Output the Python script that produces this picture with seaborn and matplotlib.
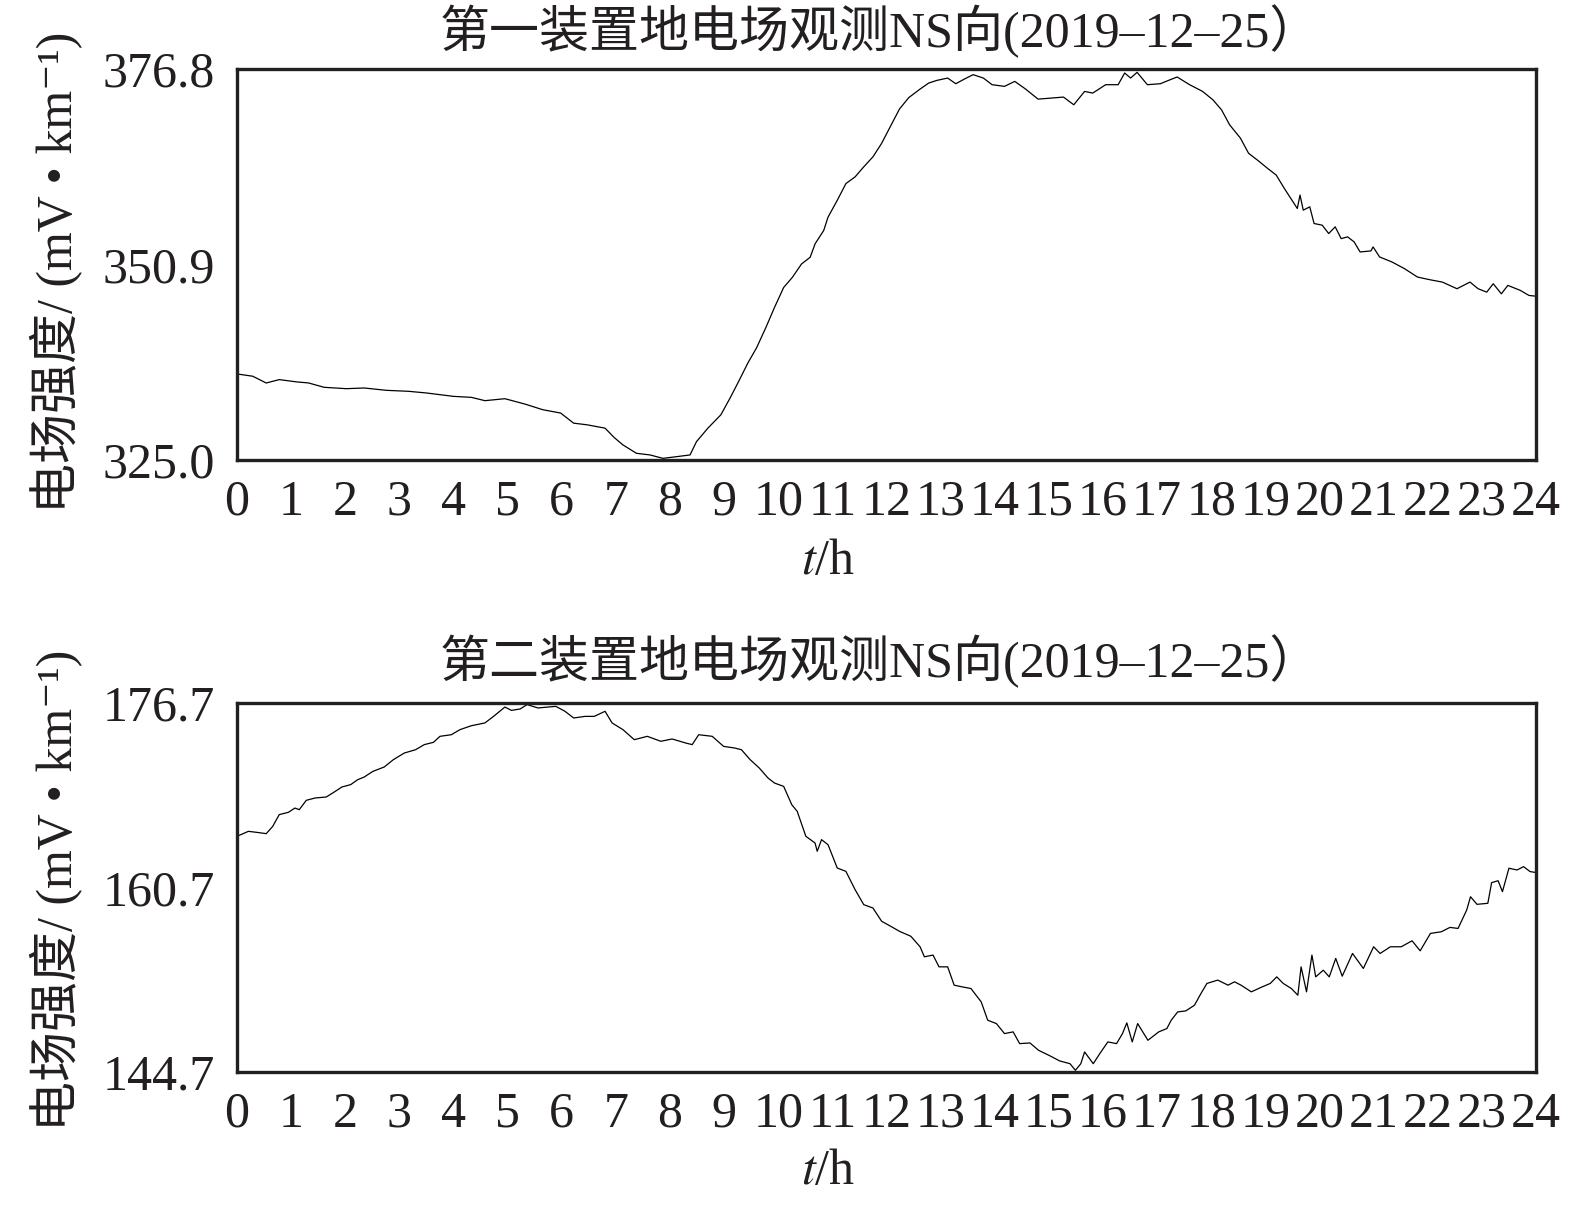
import matplotlib
matplotlib.use("Agg")
import matplotlib.pyplot as plt
import seaborn as sns
import numpy as np

# ---- data ----
hours_top = [0.0, 0.29, 0.54, 0.78, 1.11, 1.32, 1.61, 2.02, 2.35, 2.76, 3.17, 3.50, 4.00, 4.33,
             4.58, 4.95, 5.32, 5.65, 5.98, 6.22, 6.47, 6.80, 6.97, 7.13, 7.38, 7.63, 7.87, 8.12,
             8.37, 8.49, 8.70, 8.94, 9.11, 9.27, 9.44, 9.60, 9.77, 9.93, 10.10, 10.26, 10.43,
             10.59, 10.68, 10.84, 10.92, 11.09, 11.25, 11.42, 11.58, 11.75, 11.91, 12.08, 12.24,
             12.41, 12.62, 12.78, 12.93, 13.13, 13.28, 13.44, 13.60, 13.79, 13.95, 14.18, 14.37,
             14.57, 14.80, 15.03, 15.27, 15.46, 15.66, 15.81, 16.05, 16.28, 16.40, 16.51, 16.63,
             16.82, 17.06, 17.21, 17.37, 17.60, 17.84, 18.03, 18.19, 18.34, 18.54, 18.69, 18.85,
             19.04, 19.20, 19.35, 19.47, 19.59, 19.64, 19.70, 19.82, 19.90, 20.05, 20.17, 20.29,
             20.40, 20.52, 20.64, 20.75, 20.95, 20.99, 21.11, 21.34, 21.57, 21.81, 22.04, 22.27,
             22.54, 22.78, 22.93, 23.09, 23.21, 23.36, 23.48, 23.71, 23.87, 24.0]
field_top = [336.4, 336.1, 335.2, 335.65, 335.34, 335.21, 334.63, 334.45, 334.54, 334.23, 334.10,
             333.88, 333.43, 333.30, 332.86, 333.12, 332.41, 331.66, 331.22, 329.88, 329.66,
             329.22, 327.97, 327.0, 325.89, 325.67, 325.22, 325.44, 325.67, 327.44, 329.22,
             330.99, 333.21, 335.43, 337.87, 339.87, 342.53, 345.20, 347.86, 349.19, 350.97,
             351.86, 353.63, 355.41, 357.18, 359.40, 361.62, 362.51, 363.84, 365.17, 366.95,
             369.3, 371.5, 373.0, 374.14, 374.94, 375.29, 375.60, 374.85, 375.47, 376.05, 375.60,
             374.72, 374.50, 375.16, 374.14, 372.81, 372.94, 373.08, 372.06, 373.83, 373.61,
             374.72, 374.72, 376.27, 375.60, 376.36, 374.72, 374.85, 375.29, 375.74, 374.72,
             373.83, 372.72, 371.39, 369.40, 367.63, 365.63, 364.75, 363.64, 362.75, 360.98,
             359.65, 358.32, 360.10, 358.10, 358.54, 356.33, 356.11, 355.0, 355.89, 354.33,
             354.56, 353.89, 352.56, 352.70, 353.23, 351.90, 351.23, 350.35, 349.24, 348.88,
             348.57, 347.69, 348.57, 347.69, 347.24, 348.35, 347.02, 348.13, 347.47, 346.80, 346.7]

hours_bot = [0.0, 0.21, 0.37, 0.54, 0.66, 0.78, 0.95, 1.07, 1.15, 1.28, 1.44, 1.65, 1.77, 1.94,
             2.10, 2.23, 2.35, 2.51, 2.72, 2.89, 3.09, 3.30, 3.46, 3.63, 3.75, 3.96, 4.12, 4.33,
             4.58, 4.74, 4.95, 5.07, 5.23, 5.36, 5.56, 5.89, 6.06, 6.22, 6.43, 6.60, 6.80, 6.93,
             7.13, 7.34, 7.58, 7.83, 8.04, 8.29, 8.41, 8.53, 8.78, 8.99, 9.19, 9.32, 9.48, 9.65,
             9.81, 9.93, 10.10, 10.25, 10.35, 10.51, 10.68, 10.72, 10.80, 10.92, 11.09, 11.25,
             11.42, 11.58, 11.75, 11.91, 12.08, 12.24, 12.45, 12.62, 12.70, 12.86, 12.97, 13.13,
             13.25, 13.40, 13.56, 13.75, 13.87, 14.03, 14.18, 14.34, 14.46, 14.65, 14.81, 15.0,
             15.20, 15.39, 15.49, 15.59, 15.66, 15.82, 15.94, 16.09, 16.25, 16.36, 16.44, 16.54,
             16.64, 16.83, 17.03, 17.18, 17.26, 17.38, 17.53, 17.69, 17.81, 17.92, 18.12, 18.31,
             18.43, 18.55, 18.74, 18.94, 19.09, 19.21, 19.33, 19.48, 19.60, 19.66, 19.76, 19.86,
             19.93, 20.07, 20.18, 20.30, 20.42, 20.61, 20.81, 21.0, 21.12, 21.31, 21.51, 21.71,
             21.86, 22.05, 22.25, 22.41, 22.56, 22.72, 22.79, 22.91, 23.11, 23.18, 23.30, 23.38,
             23.50, 23.65, 23.77, 23.89, 24.0]
field_bot = [165.14, 165.57, 165.48, 165.37, 166.0, 167.02, 167.22, 167.59, 167.45, 168.26,
             168.46, 168.55, 168.90, 169.42, 169.62, 170.05, 170.28, 170.77, 171.15, 171.79,
             172.36, 172.65, 173.09, 173.29, 173.81, 173.95, 174.39, 174.73, 174.97, 175.54,
             176.35, 176.06, 176.18, 176.56, 176.27, 176.41, 175.98, 175.40, 175.54, 175.54,
             175.98, 174.97, 174.39, 173.52, 173.81, 173.38, 173.58, 173.23, 173.09, 173.95,
             173.81, 172.94, 172.80, 172.65, 171.79, 171.06, 170.20, 169.76, 169.47, 167.88,
             167.31, 165.14, 164.56, 163.84, 164.85, 164.41, 162.39, 162.10, 160.51, 159.21,
             158.92, 157.77, 157.33, 156.90, 156.47, 155.56, 154.69, 154.84, 153.82, 153.82,
             152.23, 152.08, 151.94, 150.78, 149.19, 148.90, 148.03, 148.18, 147.16, 147.22,
             146.58, 146.15, 145.66, 145.42, 144.85, 145.42, 146.44, 145.42, 146.29, 147.31,
             147.16, 148.03, 148.96, 147.31, 148.90, 147.45, 148.18, 148.47, 149.19, 149.91,
             150.0, 150.49, 151.51, 152.38, 152.67, 152.23, 152.52, 152.23, 151.65, 152.08,
             152.38, 152.95, 152.38, 151.94, 151.36, 153.82, 151.65, 154.84, 152.95, 153.53,
             152.95, 154.55, 153.01, 154.98, 153.68, 155.56, 154.98, 155.56, 155.56, 156.08,
             155.21, 156.72, 156.86, 157.24, 157.15, 158.75, 159.90, 159.24, 159.33, 161.12,
             161.29, 160.34, 162.37, 162.22, 162.51, 162.08, 162.0]

titles = ["第一装置地电场观测NS向(2019–12–25）", "第二装置地电场观测NS向(2019–12–25）"]
yticks_top = [325.0, 350.9, 376.8]
yticks_bot = [144.7, 160.7, 176.7]
xticks = list(range(0, 25))
ylabel = "电场强度/ (mV • km⁻¹)"
xlabel = "$t$/h"

# ---- style ----
sns.set_theme(style="white")
plt.rcParams["font.family"] = ["Liberation Serif", "Noto Sans CJK SC", "DejaVu Serif"]
plt.rcParams["mathtext.fontset"] = "stix"
plt.rcParams["axes.unicode_minus"] = False

fig = plt.figure(figsize=(15.75, 12.08), dpi=100)
W, H = 1575, 1208
L, R = 237, 1536
ax1 = fig.add_axes([L / W, 1 - 460 / H, (R - L) / W, (460 - 69) / H])
ax2 = fig.add_axes([L / W, 1 - 1072 / H, (R - L) / W, (1072 - 703) / H])

FS = 36
INK = "#231f20"
panels = [(ax1, hours_top, field_top, yticks_top, titles[0], 31, 272, 562),
          (ax2, hours_bot, field_bot, yticks_bot, titles[1], 661, 890, 1172)]
for ax, hx, fy, yt, title, ty, ly, xy in panels:
    sns.lineplot(x=hx, y=fy, ax=ax, color="black", linewidth=0.9)
    ax.set_xlim(0, 24)
    ax.set_ylim(yt[0], yt[-1])
    ax.set_xticks(xticks)
    ax.set_xticklabels([str(v) for v in xticks])
    ax.set_yticks(yt)
    ax.set_yticklabels([f"{v:.1f}" for v in yt])
    ax.tick_params(axis="both", direction="in", width=2.2, color=INK,
                   labelsize=FS, labelcolor=INK)
    ax.tick_params(axis="x", length=10, pad=14)
    ax.tick_params(axis="y", length=8, pad=16)
    for sp in ax.spines.values():
        sp.set_linewidth(2.4)
        sp.set_color(INK)
        sp.set_visible(True)
    ax.set_xlabel("")
    ax.set_ylabel("")
    ax.grid(False)
    fig.text(880 / W, 1 - ty / H, title, fontsize=FS, color=INK, ha="center", va="center")
    fig.text(57 / W, 1 - ly / H, ylabel, fontsize=FS, color=INK, ha="center", va="center",
             rotation=90)
    fig.text(828 / W, 1 - xy / H, xlabel, fontsize=FS, color=INK, ha="center", va="center")

fig.savefig("out.png", dpi=100, facecolor="white")
